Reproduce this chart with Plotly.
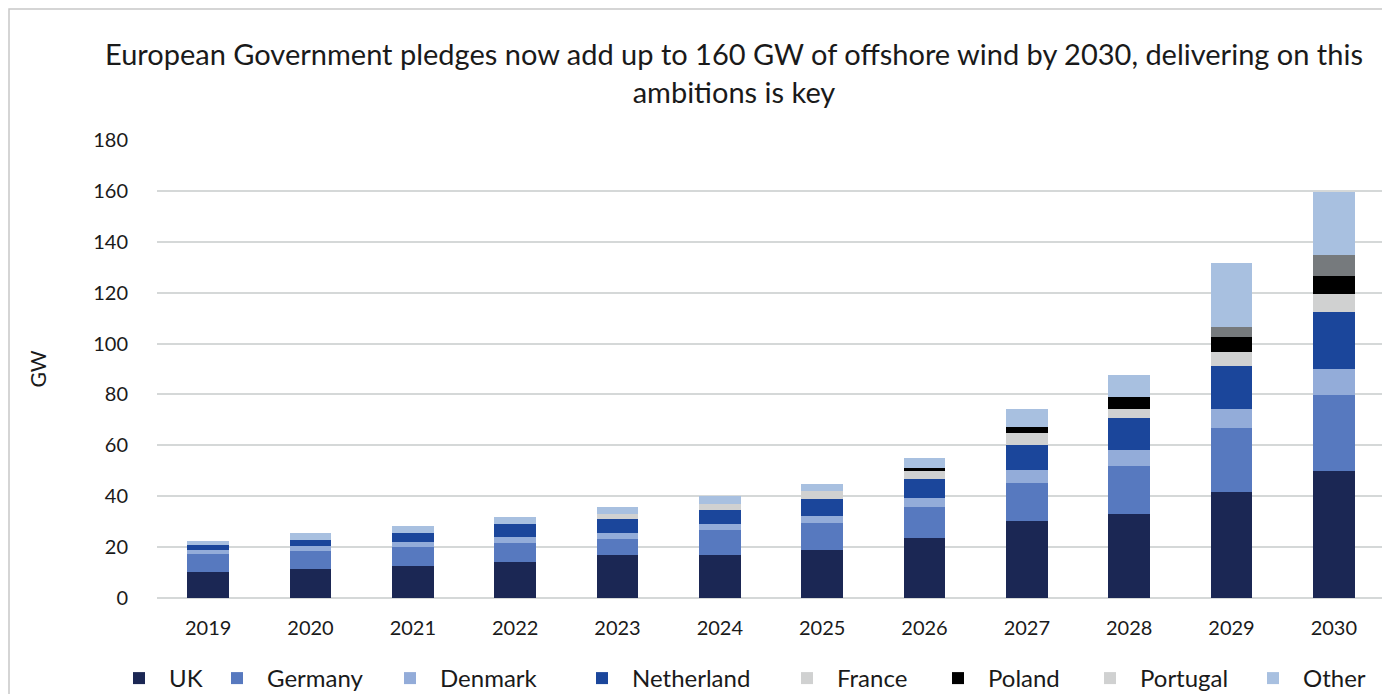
import plotly.graph_objects as go

years = ["2019", "2020", "2021", "2022", "2023", "2024", "2025", "2026", "2027", "2028", "2029", "2030"]

uk          = [10.1, 11.3, 12.5, 14.1, 16.8, 16.8, 18.8, 23.6, 30.3, 33.1, 41.5, 49.9]
germany     = [7.1, 7.1, 7.5, 7.5, 6.4, 9.9, 10.7, 12.2, 15.0, 18.9, 25.4, 29.7]
denmark     = [1.6, 2.0, 2.0, 2.3, 2.3, 2.4, 2.7, 3.5, 5.2, 6.0, 7.5, 10.3]
netherland  = [2.0, 2.4, 3.5, 5.2, 5.6, 5.5, 6.7, 7.5, 9.8, 12.6, 16.7, 22.6]
france      = [0, 0, 0, 0, 1.9, 2.4, 3.2, 3.2, 4.4, 3.6, 5.6, 6.8]
poland      = [0, 0, 0, 0, 0, 0, 0, 1.2, 2.4, 4.7, 5.9, 7.1]
portugal    = [0, 0, 0, 0, 0, 0, 0, 0, 0, 0, 4.0, 8.3]
other       = [1.6, 2.7, 2.8, 2.7, 2.8, 3.1, 2.8, 3.9, 7.1, 8.7, 25.0, 25.0]

series = [
    ("UK", uk, "#1b2754"),
    ("Germany", germany, "#5779bf"),
    ("Denmark", denmark, "#93acd9"),
    ("Netherland", netherland, "#1b469b"),
    ("France", france, "#d0d1d1"),
    ("Poland", poland, "#000000"),
    ("Portugal", portugal, "#767a7d"),
    ("Other", other, "#a8c0e0"),
]

# page offset of the figure inside the browser page (default body margin)
OFF = 8
# target left edges of legend texts in the page
legend_text_x = [169, 267, 440, 632, 837, 988, 1140, 1303]

font_family = "Lato, 'Open Sans', sans-serif"
W, H = 1390, 694
L, R, T, B = 157 - OFF, 5 + OFF, 140 - OFF, 96 + OFF
PW = W - L - R
PH = H - T - B

fig = go.Figure()
layout_legends = {}
for i, (name, vals, col) in enumerate(series):
    lg = "legend" if i == 0 else f"legend{i + 1}"
    if name == "Portugal":
        fig.add_trace(go.Bar(x=years, y=vals, name=name, marker_color=col,
                             marker_line_width=0, showlegend=False))
        fig.add_trace(go.Bar(x=years, y=[None] * len(years), name=name,
                             marker_color="#d0d1d1", marker_line_width=0, legend=lg))
    else:
        fig.add_trace(go.Bar(x=years, y=vals, name=name, marker_color=col,
                             marker_line_width=0, legend=lg))
    layout_legends[lg] = dict(
        orientation="h", xref="container", yref="container",
        x=(legend_text_x[i] - 60 - OFF) / W, xanchor="left",
        y=1 - (678 - OFF - 22) / H, yanchor="top",
        font=dict(size=24, family=font_family, color="#1a1a1a"),
        itemwidth=50, bgcolor="rgba(0,0,0,0)", borderwidth=0,
    )

fig.update_layout(
    barmode="stack",
    bargap=0.59,
    width=W, height=H,
    margin=dict(l=L, r=R, t=T, b=B, autoexpand=False),
    plot_bgcolor="white",
    paper_bgcolor="white",
    font=dict(family=font_family, color="#1a1a1a", size=20),
    title=dict(
        text="European Government pledges now add up to 160 GW of offshore wind by 2030, delivering on this<br>ambitions is key",
        x=(734 - OFF) / W, xref="container", xanchor="center",
        y=1 - (74 - OFF - 9) / H, yref="container", yanchor="middle",
        font=dict(size=29, family=font_family, color="#1a1a1a"),
    ),
    shapes=[dict(type="rect", xref="paper", yref="paper",
                 x0=(9 - OFF - L) / PW, x1=(1387 - OFF - L) / PW,
                 y0=-0.5, y1=(H - B - 1) / PH,
                 line=dict(color="#c8c8c8", width=1.5), fillcolor="rgba(0,0,0,0)")],
    **layout_legends,
)

fig.update_yaxes(
    range=[0, 180], dtick=20, showgrid=True, gridcolor="#d5d8d8", gridwidth=2,
    zeroline=True, zerolinecolor="#d5d8d8", zerolinewidth=2,
    ticks="", ticklabelstandoff=28, tickfont=dict(size=20),
    title=dict(text="GW", font=dict(size=21), standoff=40),
)
fig.update_xaxes(
    showgrid=False, ticks="", tickfont=dict(size=20), ticklabelstandoff=16,
    showline=False,
)

fig.write_html("out.html")
